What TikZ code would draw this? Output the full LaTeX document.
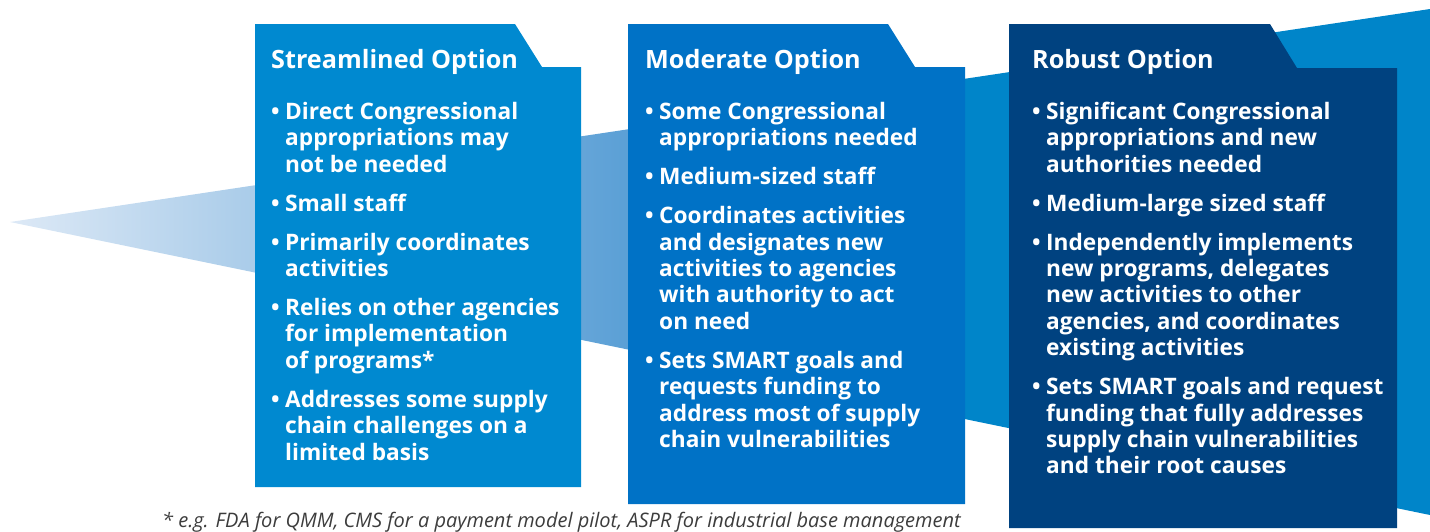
\documentclass[tikz,border=0pt]{standalone}
\usepackage{fontspec}
\setmainfont{Open Sans}
\usetikzlibrary{calc}

\definecolor{boxA}{RGB}{0,137,208}
\definecolor{boxB}{RGB}{0,114,198}
\definecolor{boxC}{RGB}{0,66,128}
\definecolor{wedgeL}{RGB}{221,233,246}
\definecolor{wedgeR}{RGB}{88,158,213}
\definecolor{wedgeD}{RGB}{0,133,201}
\definecolor{notegray}{RGB}{60,60,60}

\newcommand\bodyfont{\fontsize{22.7}{26.4}\selectfont\bfseries}
\newcommand\titlefont{\fontsize{25.2}{30}\selectfont\bfseries}
\newcommand\bitem[1]{\makebox[14pt][l]{•}\begin{tabular}[t]{@{}l@{}}#1\end{tabular}}

\tikzset{
  boxtitle/.style={anchor=base west, inner sep=0pt, text=white, font=\titlefont},
  bullet/.style={anchor=base west, inner sep=0pt, text=white, font=\bodyfont},
  note/.style={anchor=base west, inner sep=0pt, text=notegray,
               font=\fontsize{20}{23}\selectfont\itshape},
}

\begin{document}
\begin{tikzpicture}[x=1pt,y=-1pt]
\useasboundingbox (0,0) rectangle (1430,531);

% widening arrow behind the boxes
\shade[left color=wedgeL, right color=wedgeR]
  (10,222) -- (640,127.5) -- (640,352) -- cycle;
\fill[wedgeD] (638,127.8) -- (1430,9) -- (1430,515) -- (638,351.6) -- cycle;

% option panels with folded tab corner
\fill[boxA] (255,24) -- (515,24) -- (542,67) -- (581,67) -- (581,487) -- (255,487) -- cycle;
\fill[boxB] (628,24) -- (888,24) -- (915,67) -- (965,67) -- (965,504) -- (628,504) -- cycle;
\fill[boxC] (1009,24) -- (1270,24) -- (1297,68) -- (1397,68) -- (1397,528) -- (1009,528) -- cycle;

% streamlined option
\node[boxtitle] (t1) at (271,68.3) {Streamlined Option};
\node[bullet] (s1) at (271,119.3) {\bitem{Direct Congressional\\appropriations may\\not be needed}};
\node[bullet] (s2) at (271,211.1) {\bitem{Small staff}};
\node[bullet] (s3) at (271,250.1) {\bitem{Primarily coordinates\\activities}};
\node[bullet] (s4) at (271,315.5) {\bitem{Relies on other agencies\\for implementation\\of programs*}};
\node[bullet] (s5) at (271,407.3) {\bitem{Addresses some supply\\chain challenges on a\\limited basis}};

% moderate option
\node[boxtitle] (t2) at (645,68.3) {Moderate Option};
\node[bullet] (m1) at (645,119.3) {\bitem{Some Congressional\\appropriations needed}};
\node[bullet] (m2) at (645,184.7) {\bitem{Medium-sized staff}};
\node[bullet] (m3) at (645,223.7) {\bitem{Coordinates activities\\and designates new\\activities to agencies\\with authority to act\\on need}};
\node[bullet] (m4) at (645,368.3) {\bitem{Sets SMART goals and\\requests funding to\\address most of supply\\chain vulnerabilities}};

% robust option
\node[boxtitle] (t3) at (1032,68.3) {Robust Option};
\node[bullet] (r1) at (1032,119.3) {\bitem{Significant Congressional\\appropriations and new\\authorities needed}};
\node[bullet] (r2) at (1032,211.1) {\bitem{Medium-large sized staff}};
\node[bullet] (r3) at (1032,250.1) {\bitem{Independently implements\\new programs, delegates\\new activities to other\\agencies, and coordinates\\existing activities}};
\node[bullet] (r4) at (1032,394.7) {\bitem{Sets SMART goals and request\\funding that fully addresses\\supply chain vulnerabilities\\and their root causes}};

% footnote
\node[note] (fn) at (162,527) {* e.g. FDA for QMM, CMS for a payment model pilot, ASPR for industrial base management};
\end{tikzpicture}
\end{document}
